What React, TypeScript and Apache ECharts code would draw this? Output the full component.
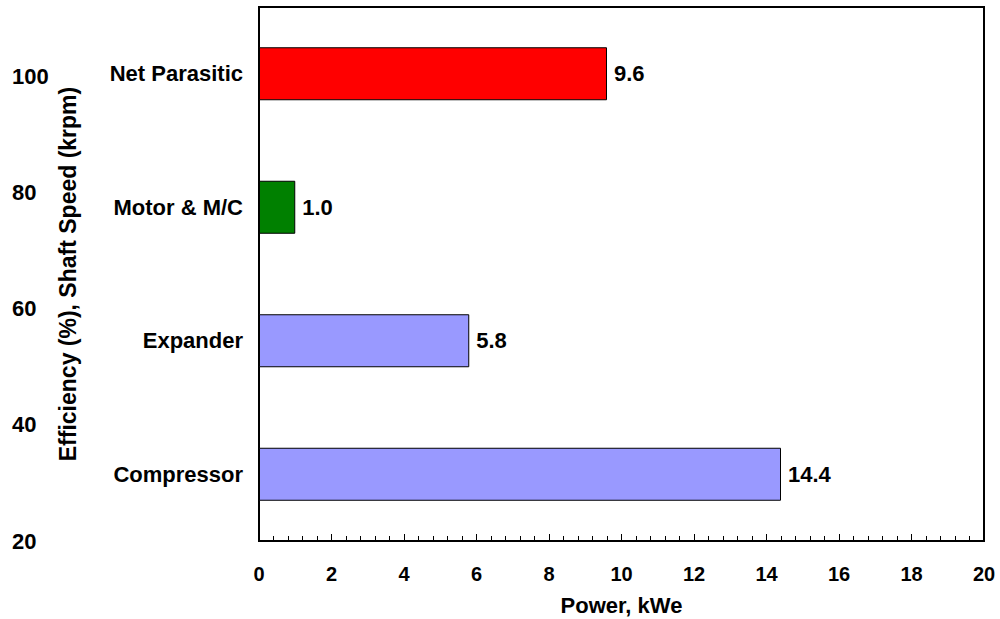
import React, { useEffect, useRef } from "react";
import * as echarts from "echarts";

const categories = ["Compressor", "Expander", "Motor & M/C", "Net Parasitic"];
const powerValues = [14.4, 5.8, 1.0, 9.6];
const barColors = ["#9999FF", "#9999FF", "#008000", "#FF0000"];
const xTicks = { min: 0, max: 20, interval: 2 };
const leftScale = { min: 20, max: 112, interval: 20 };

const FONT = "'Liberation Sans', Arial, sans-serif";

export default function App() {
  const ref = useRef<HTMLDivElement>(null);
  useEffect(() => {
    if (!ref.current) return;
    const chart = echarts.init(ref.current, undefined, { renderer: "svg" });
    const option: any = {
      animation: false,
      backgroundColor: "#ffffff",
      textStyle: { fontFamily: FONT },
      grid: {
        left: 259,
        right: 16,
        top: 7,
        bottom: 78,
        show: true,
        borderColor: "#000",
        borderWidth: 2,
        containLabel: false,
        outerBoundsMode: "none",
      },
      xAxis: {
        type: "value",
        min: xTicks.min,
        max: xTicks.max,
        interval: xTicks.interval,
        name: "Power, kWe",
        nameLocation: "middle",
        nameGap: 53,
        nameTextStyle: { fontSize: 22, fontWeight: "bold", color: "#000", fontFamily: FONT },
        axisLine: { show: true, lineStyle: { color: "#000", width: 2 } },
        axisTick: { show: true, inside: true, length: 7, lineStyle: { color: "#000", width: 1 } },
        minorTick: { show: true, splitNumber: 5, length: 5, lineStyle: { color: "#000", width: 1 } },
        splitLine: { show: false },
        minorSplitLine: { show: false },
        axisLabel: { fontSize: 20, fontWeight: "bold", color: "#000", margin: 23, fontFamily: FONT },
      },
      yAxis: [
        {
          type: "category",
          data: categories,
          position: "left",
          name: "Efficiency (%), Shaft Speed (krpm)",
          nameLocation: "middle",
          nameRotate: 90,
          nameGap: 180,
          nameTextStyle: { fontSize: 23, fontWeight: "bold", color: "#000", fontFamily: FONT },
          axisLine: { show: true, lineStyle: { color: "#000", width: 2 } },
          axisTick: { show: false },
          splitLine: { show: false },
          axisLabel: { fontSize: 22, fontWeight: "bold", color: "#000", margin: 16, fontFamily: FONT },
        },
        {
          type: "value",
          position: "left",
          offset: 247,
          min: leftScale.min,
          max: leftScale.max,
          interval: leftScale.interval,
          axisLine: { show: false },
          axisTick: { show: false },
          splitLine: { show: false },
          axisLabel: {
            show: true,
            showMaxLabel: false,
            align: "left",
            margin: 0,
            fontSize: 22,
            fontWeight: "bold",
            color: "#000",
            fontFamily: FONT,
            formatter: (v: number) => (v % 20 === 0 ? String(v) : ""),
          },
        },
      ],
      series: [
        {
          type: "bar",
          yAxisIndex: 0,
          barWidth: 53,
          data: powerValues.map((v, i) => ({
            value: v,
            itemStyle: { color: barColors[i], borderColor: "#000", borderWidth: 1 },
          })),
          label: {
            show: true,
            position: "right",
            distance: 7,
            fontSize: 22,
            fontWeight: "bold",
            color: "#000",
            fontFamily: FONT,
            formatter: (p: any) => Number(p.value).toFixed(1),
          },
        },
      ],
    };
    chart.setOption(option);
    return () => chart.dispose();
  }, []);
  return (
    <div
      ref={ref}
      style={{ position: "fixed", left: 0, top: 0, width: 1000, height: 619, background: "#fff" }}
    />
  );
}
